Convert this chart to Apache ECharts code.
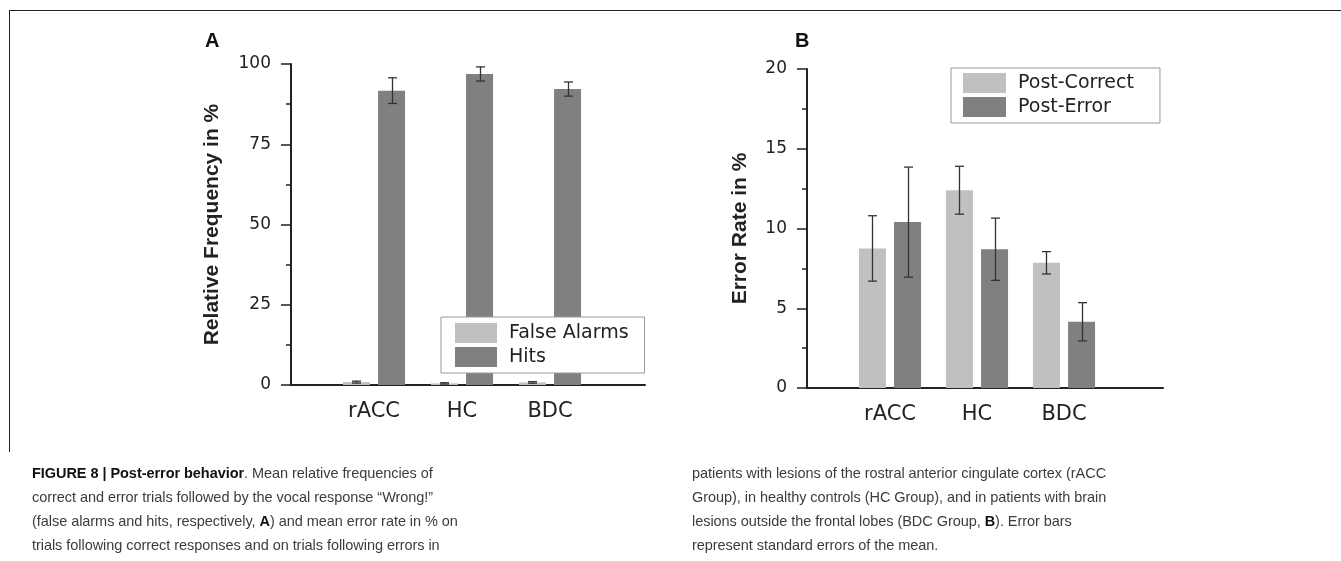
<!DOCTYPE html>
<html>
<head>
<meta charset="utf-8">
<script src="https://cdn.jsdelivr.net/npm/echarts@6/dist/echarts.min.js"></script>
<style>
  html, body { margin: 0; padding: 0; background: #fff; }
  #wrap { position: relative; width: 1341px; height: 561px; overflow: hidden; }
  #chart { position: absolute; left: 0; top: 0; width: 1341px; height: 561px; }
  #frame { position: absolute; left: 9px; top: 10px; width: 1340px; height: 442px;
           border-top: 1.5px solid #222; border-left: 1.5px solid #222; box-sizing: border-box; }
  .cap { position: absolute; top: 461px; font-family: "Liberation Sans", Arial, sans-serif;
         font-size: 14.5px; line-height: 24px; color: #3c3c3c; white-space: nowrap; letter-spacing: -0.05px; }
  .cap b { color: #111; }
</style>
</head>
<body>
<div id="wrap">
  <div id="frame"></div>
  <div id="chart"></div>
  <div class="cap" style="left:32px;">
    <b>FIGURE 8 | Post-error behavior</b>. Mean relative frequencies of<br>
    correct and error trials followed by the vocal response “Wrong!”<br>
    (false alarms and hits, respectively, <b>A</b>) and mean error rate in % on<br>
    trials following correct responses and on trials following errors in
  </div>
  <div class="cap" style="left:692px;">
    patients with lesions of the rostral anterior cingulate cortex (rACC<br>
    Group), in healthy controls (HC Group), and in patients with brain<br>
    lesions outside the frontal lobes (BDC Group, <b>B</b>). Error bars<br>
    represent standard errors of the mean.
  </div>
</div>
<script>
// ---- data ----
const groups = ['rACC', 'HC', 'BDC'];

const falseAlarmsMean = [0.9, 0.5, 0.8];
const falseAlarmsSE   = [0.3, 0.2, 0.25];
const hitsMean        = [91.7, 96.9, 92.2];
const hitsSE          = [4.0, 2.2, 2.2];

const postCorrectMean = [8.75, 12.4, 7.85];
const postCorrectSE   = [2.05, 1.5, 0.7];
const postErrorMean   = [10.4, 8.7, 4.15];
const postErrorSE     = [3.45, 1.95, 1.2];

const ticksA = [0, 25, 50, 75, 100];
const ticksB = [0, 5, 10, 15, 20];

// ---- styles ----
const LIGHT = '#c0c0c0';
const DARK = '#808080';
const AXIS = '#222';
const BAR_W = 27;
const BAR_GAP = 0.3;
const tickFont = 'DejaVu Sans';

function errData(mean, se, k) {
  return mean.map((m, i) => [i, m - se[i], m + se[i], k]);
}

function errSeries(xi, yi, data) {
  return {
    type: 'custom', xAxisIndex: xi, yAxisIndex: yi, z: 5, silent: true,
    data: data,
    renderItem: function (params, api) {
      const k = api.value(3);
      const off = (k === 0 ? -1 : 1) * (BAR_W * (1 + BAR_GAP)) / 2;
      const lo = api.coord([api.value(0), api.value(1)]);
      const hi = api.coord([api.value(0), api.value(2)]);
      const x = Math.round(lo[0] + off) + 0.5;
      const cap = 4.5;
      const st = { stroke: '#333', lineWidth: 1.3 };
      return {
        type: 'group',
        children: [
          { type: 'line', shape: { x1: x, y1: lo[1], x2: x, y2: hi[1] }, style: st },
          { type: 'line', shape: { x1: x - cap, y1: lo[1], x2: x + cap, y2: lo[1] }, style: st },
          { type: 'line', shape: { x1: x - cap, y1: hi[1], x2: x + cap, y2: hi[1] }, style: st }
        ]
      };
    }
  };
}

function catAxis(gi) {
  return {
    type: 'category', gridIndex: gi, data: groups,
    axisLine: { show: false }, axisTick: { show: false },
    axisLabel: { fontFamily: tickFont, fontSize: 21, color: AXIS, margin: 16 }
  };
}
function frameX(gi) {
  return {
    type: 'value', gridIndex: gi, min: 0, max: 1,
    axisLine: { show: true, onZero: false, lineStyle: { color: AXIS, width: 2 } },
    axisTick: { show: false }, axisLabel: { show: false }, splitLine: { show: false }
  };
}
function hiddenY(gi, ticks) {
  return { type: 'value', gridIndex: gi, min: ticks[0], max: ticks[ticks.length - 1], show: false, splitLine: { show: false } };
}
function frameY(gi, ticks, name, gap) {
  return {
    type: 'value', gridIndex: gi, min: ticks[0], max: ticks[ticks.length - 1],
    interval: ticks[1] - ticks[0],
    name: name, nameLocation: 'middle', nameGap: gap,
    nameTextStyle: { fontFamily: 'Liberation Sans', fontWeight: 'bold', fontSize: 21, color: AXIS },
    axisLine: { show: true, onZero: false, lineStyle: { color: AXIS, width: 2 } },
    axisTick: { show: true, inside: false, length: 10, lineStyle: { color: AXIS, width: 1.5 } },
    minorTick: { show: true, splitNumber: 2, length: 5, lineStyle: { color: AXIS, width: 1.5 } },
    axisLabel: { fontFamily: tickFont, fontSize: 17, color: AXIS, margin: 20 },
    splitLine: { show: false }, minorSplitLine: { show: false }
  };
}
function legend(names, left, top, pad, iw) {
  return {
    data: names, orient: 'vertical', left: left, top: top,
    icon: 'rect', itemWidth: iw, itemHeight: 20, itemGap: 4,
    padding: pad, backgroundColor: '#fff', borderColor: '#999', borderWidth: 1,
    borderRadius: 0, selectedMode: false,
    textStyle: { fontFamily: tickFont, fontSize: 19, color: '#222', padding: [0, 0, 0, 7], lineHeight: 20 }
  };
}

const chart = echarts.init(document.getElementById('chart'));
chart.setOption({
  animation: false,
  title: [
    { text: 'A', left: 200, top: 26, textStyle: { fontFamily: 'Liberation Sans', fontWeight: 'bold', fontSize: 20, color: '#111' } },
    { text: 'B', left: 790, top: 26, textStyle: { fontFamily: 'Liberation Sans', fontWeight: 'bold', fontSize: 20, color: '#111' } }
  ],
  grid: [
    { left: 330, top: 64, width: 264, height: 321 },
    { left: 291, top: 64, width: 354, height: 321 },
    { left: 846.5, top: 69, width: 261, height: 319 },
    { left: 807, top: 69, width: 356, height: 319 }
  ],
  xAxis: [catAxis(0), frameX(1), catAxis(2), frameX(3)],
  yAxis: [
    hiddenY(0, ticksA),
    frameY(1, ticksA, 'Relative Frequency in %', 68),
    hiddenY(2, ticksB),
    frameY(3, ticksB, 'Error Rate in %', 56)
  ],
  legend: [
    legend(['False Alarms', 'Hits'], 441, 317, [6, 16, 6, 14], 42),
    legend(['Post-Correct', 'Post-Error'], 951, 68, [5, 26, 6, 12], 43)
  ],
  series: [
    { name: 'False Alarms', type: 'bar', xAxisIndex: 0, yAxisIndex: 0, data: falseAlarmsMean,
      barWidth: BAR_W, barGap: (BAR_GAP * 100) + '%', itemStyle: { color: LIGHT } },
    { name: 'Hits', type: 'bar', xAxisIndex: 0, yAxisIndex: 0, data: hitsMean,
      barWidth: BAR_W, barGap: (BAR_GAP * 100) + '%', itemStyle: { color: DARK } },
    errSeries(0, 0, errData(falseAlarmsMean, falseAlarmsSE, 0)),
    errSeries(0, 0, errData(hitsMean, hitsSE, 1)),
    { name: 'Post-Correct', type: 'bar', xAxisIndex: 2, yAxisIndex: 2, data: postCorrectMean,
      barWidth: BAR_W, barGap: (BAR_GAP * 100) + '%', itemStyle: { color: LIGHT } },
    { name: 'Post-Error', type: 'bar', xAxisIndex: 2, yAxisIndex: 2, data: postErrorMean,
      barWidth: BAR_W, barGap: (BAR_GAP * 100) + '%', itemStyle: { color: DARK } },
    errSeries(2, 2, errData(postCorrectMean, postCorrectSE, 0)),
    errSeries(2, 2, errData(postErrorMean, postErrorSE, 1))
  ]
});
</script>
</body>
</html>
